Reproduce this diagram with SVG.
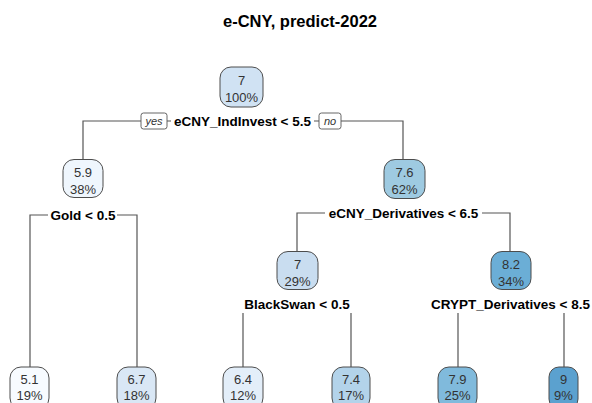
<svg xmlns="http://www.w3.org/2000/svg" width="592" height="403" viewBox="0 0 592 403">
<style>
.nb{stroke:#4d4d4d;stroke-width:1}
.nt{font-family:"Liberation Sans",Arial,sans-serif;font-size:13px;fill:#333;text-anchor:middle}
.sl{font-family:"Liberation Sans",Arial,sans-serif;font-size:13.5px;font-weight:bold;fill:#000;text-anchor:middle}
.ed{stroke:#555;stroke-width:1.2;fill:none}
.yn{fill:#fff;stroke:#555;stroke-width:0.9}
.ynt{font-family:"Liberation Sans",Arial,sans-serif;font-size:11px;font-style:italic;fill:#333;text-anchor:middle}
</style>
<rect width="592" height="403" fill="#fff"/>
<text x="300" y="27" font-family="'Liberation Sans',Arial,sans-serif" font-size="16.5" font-weight="bold" text-anchor="middle" fill="#000">e-CNY, predict-2022</text>
<g id="connectors">
<path class="ed" d="M83 160V121H141M167 121H171M314 121H319M341 121H403V160"/>
<path class="ed" d="M30 367V215H48M117 215H137V367"/>
<path class="ed" d="M297 252V213H325M482 213H510V252"/>
<path class="ed" d="M243 367V313M351 367V313"/>
<path class="ed" d="M458 367V313M564 367V313"/>
<rect class="yn" x="141" y="113" width="26" height="16" rx="2.5"/>
<text class="ynt" x="154" y="125">yes</text>
<rect class="yn" x="319" y="113" width="22" height="16" rx="2.5"/>
<text class="ynt" x="330" y="125">no</text>
</g>
<g id="n1"><rect class="nb" x="220" y="67" width="43" height="40" rx="11" fill="#d0e2f3"/><text class="nt" x="241.5" y="84.5">7</text><text class="nt" x="241.5" y="102">100%</text><text class="sl" x="242.5" y="126">eCNY_IndInvest &lt; 5.5</text></g>
<g id="n2"><rect class="nb" x="63" y="159.5" width="40" height="38" rx="11" fill="#eff6fd"/><text class="nt" x="83" y="176.5">5.9</text><text class="nt" x="83" y="193.5">38%</text><text class="sl" x="83" y="220">Gold &lt; 0.5</text></g>
<g id="n3"><rect class="nb" x="384" y="159.5" width="41" height="39" rx="11" fill="#9ecae1"/><text class="nt" x="404.5" y="177">7.6</text><text class="nt" x="404.5" y="194">62%</text><text class="sl" x="403.5" y="218">eCNY_Derivatives &lt; 6.5</text></g>
<g id="n4"><rect class="nb" x="10" y="367" width="39" height="42" rx="11" fill="#f7fbff"/><text class="nt" x="29.5" y="383.5">5.1</text><text class="nt" x="29.5" y="400">19%</text></g>
<g id="n5"><rect class="nb" x="117" y="367" width="39" height="42" rx="11" fill="#d9e7f5"/><text class="nt" x="136.5" y="383.5">6.7</text><text class="nt" x="136.5" y="400">18%</text></g>
<g id="n6"><rect class="nb" x="277" y="251.5" width="41" height="38" rx="11" fill="#c9ddf0"/><text class="nt" x="297.5" y="268.5">7</text><text class="nt" x="297.5" y="285.5">29%</text><text class="sl" x="297" y="309">BlackSwan &lt; 0.5</text></g>
<g id="n7"><rect class="nb" x="491" y="251.5" width="40" height="38" rx="11" fill="#6baed6"/><text class="nt" x="511" y="268.5">8.2</text><text class="nt" x="511" y="285.5">34%</text><text class="sl" x="510.5" y="309">CRYPT_Derivatives &lt; 8.5</text></g>
<g id="n8"><rect class="nb" x="223" y="367" width="40" height="42" rx="11" fill="#e3eef9"/><text class="nt" x="243" y="383.5">6.4</text><text class="nt" x="243" y="400">12%</text></g>
<g id="n9"><rect class="nb" x="332" y="367" width="38" height="42" rx="11" fill="#b3d3ea"/><text class="nt" x="351" y="383.5">7.4</text><text class="nt" x="351" y="400">17%</text></g>
<g id="n10"><rect class="nb" x="438" y="367" width="39" height="42" rx="11" fill="#80badc"/><text class="nt" x="457.5" y="383.5">7.9</text><text class="nt" x="457.5" y="400">25%</text></g>
<g id="n11"><rect class="nb" x="549" y="367" width="29" height="42" rx="10" fill="#5ba1cf"/><text class="nt" x="563.5" y="383.5">9</text><text class="nt" x="563.5" y="400">9%</text></g>
</svg>
